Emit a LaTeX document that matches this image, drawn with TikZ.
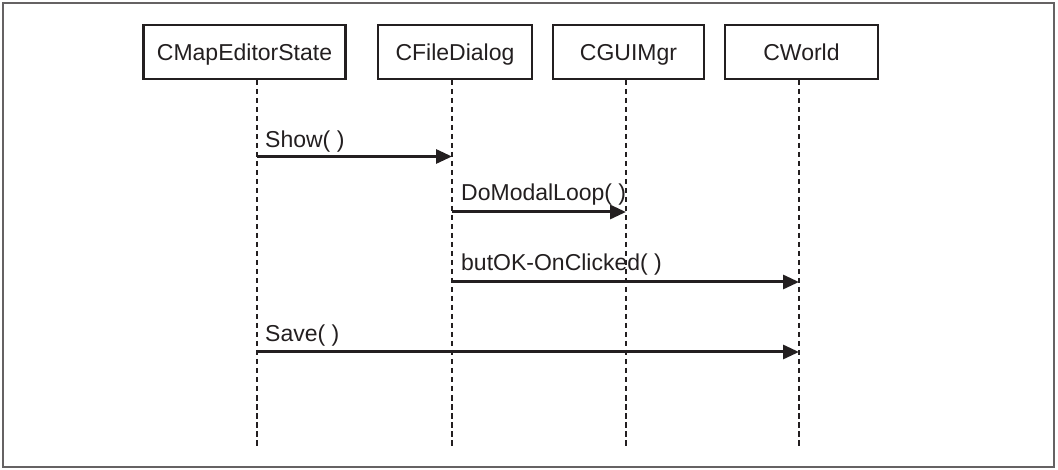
\documentclass[tikz,border=0pt]{standalone}
\usepackage{fontspec}
\setmainfont{Liberation Sans}
\usetikzlibrary{arrows.meta}
\definecolor{ink}{HTML}{231F20}
\tikzset{
  objbox/.style={draw=ink, line width=2.4pt, inner sep=0pt, text=ink,
    minimum height=54pt, text height=19pt, text depth=1pt,
    font=\fontsize{23}{27}\selectfont},
  lifeline/.style={draw=ink, line width=2.8pt, dash pattern=on 5.5pt off 3.5pt},
  msg/.style={draw=ink, line width=3pt, -{Triangle[length=16pt,width=14pt]}},
  msglabel/.style={anchor=base west, inner sep=0pt, text=ink, font=\fontsize{23}{27}\selectfont},
  frame/.style={draw=ink!70, line width=1.6pt}
}
\begin{document}
\begin{tikzpicture}[x=1pt,y=-1pt]
\useasboundingbox (0,0) rectangle (1058,470);
\draw[frame] (3,3) rectangle (1054,467);

\node[objbox, minimum width=202pt] (b1) at (244.5,52) {CMapEditorState};
\node[objbox, minimum width=154pt] (b2) at (455,52) {CFileDialog};
\node[objbox, minimum width=151pt] (b3) at (628.5,52) {CGUIMgr};
\node[objbox, minimum width=153pt] (b4) at (801.5,52) {CWorld};

\coordinate (l1t) at (257,80);  \coordinate (l1b) at (257,446);
\coordinate (l2t) at (452,80);  \coordinate (l2b) at (452,446);
\coordinate (l3t) at (626,80);  \coordinate (l3b) at (626,446);
\coordinate (l4t) at (799,80);  \coordinate (l4b) at (799,446);

\draw[lifeline] (l1t) -- (l1b);
\draw[lifeline] (l2t) -- (l2b);
\draw[lifeline] (l3t) -- (l3b);
\draw[lifeline] (l4t) -- (l4b);

\coordinate (m1a) at (257,156.5); \coordinate (m1b) at (452,156.5);
\coordinate (m2a) at (452,212);   \coordinate (m2b) at (626,212);
\coordinate (m3a) at (452,282);   \coordinate (m3b) at (799,282);
\coordinate (m4a) at (257,352);   \coordinate (m4b) at (799,352);

\draw[msg] (m1a) -- (m1b);
\draw[msg] (m2a) -- (m2b);
\draw[msg] (m3a) -- (m3b);
\draw[msg] (m4a) -- (m4b);

\node[msglabel] (t1) at (265,147.5) {Show( )};
\node[msglabel] (t2) at (461,200.5) {DoModalLoop( )};
\node[msglabel] (t3) at (461,270.5) {butOK-OnClicked( )};
\node[msglabel] (t4) at (265,341.5) {Save( )};
\end{tikzpicture}
\end{document}
